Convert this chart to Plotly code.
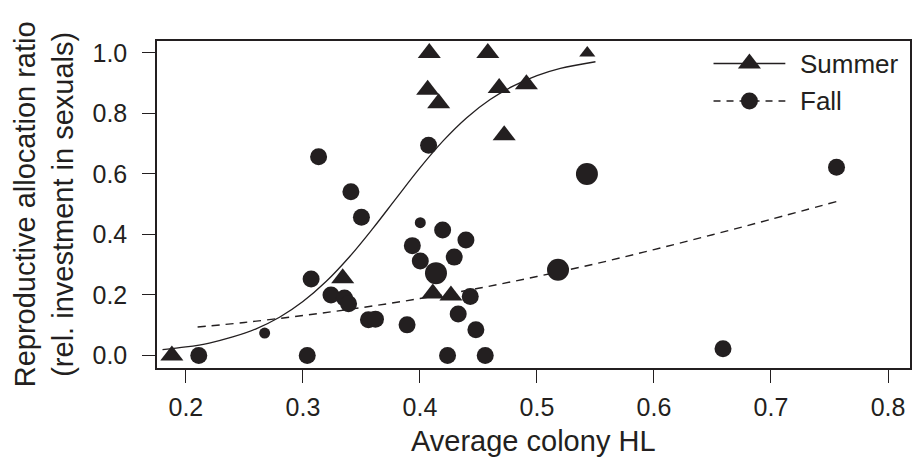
import plotly.graph_objects as go

# ---- data -------------------------------------------------------------
# Summer colonies: average colony HL vs reproductive allocation ratio
summer_hl = [0.188, 0.334, 0.408, 0.458, 0.543, 0.4066, 0.416, 0.4677, 0.491, 0.472, 0.411, 0.4265]
summer_ratio = [0.0, 0.255, 1.0, 1.0, 1.0, 0.878, 0.834, 0.884, 0.897, 0.728, 0.205, 0.198]

# Fall colonies
fall_hl = [0.3134, 0.341, 0.350, 0.3935, 0.307, 0.324, 0.3355, 0.339, 0.356, 0.362,
           0.389, 0.2673, 0.211, 0.3037, 0.4003, 0.4194, 0.4393, 0.4293, 0.4003, 0.4137,
           0.443, 0.4327, 0.4478, 0.4236, 0.4558, 0.518, 0.4074, 0.5427, 0.756, 0.659]
fall_ratio = [0.657, 0.541, 0.457, 0.363, 0.253, 0.200, 0.190, 0.171, 0.118, 0.120,
              0.101, 0.074, 0.0, 0.0, 0.439, 0.415, 0.382, 0.325, 0.3125, 0.272,
              0.195, 0.137, 0.085, 0.0, 0.0, 0.283, 0.695, 0.600, 0.622, 0.022]

# Fitted curves
summer_fit_hl = [0.18, 0.20, 0.22, 0.24, 0.26, 0.28, 0.30, 0.32, 0.34, 0.36,
                 0.38, 0.40, 0.42, 0.44, 0.46, 0.48, 0.50, 0.52, 0.55]
summer_fit_ratio = [0.019, 0.028, 0.041, 0.061, 0.088, 0.126, 0.178, 0.245, 0.327, 0.421,
                    0.521, 0.620, 0.710, 0.786, 0.846, 0.891, 0.925, 0.949, 0.971]
fall_fit_hl = [0.21, 0.25, 0.30, 0.35, 0.40, 0.45, 0.50, 0.55, 0.60, 0.65, 0.70, 0.757]
fall_fit_ratio = [0.094, 0.109, 0.132, 0.158, 0.188, 0.222, 0.261, 0.303, 0.350, 0.399, 0.450, 0.510]

x_ticks = [0.2, 0.3, 0.4, 0.5, 0.6, 0.7, 0.8]
y_ticks = [0.0, 0.2, 0.4, 0.6, 0.8, 1.0]
legend_labels = ["Summer", "Fall"]

# ---- styling ----------------------------------------------------------
INK = "#231f20"
FONT = "Liberation Sans, Arial, Helvetica, sans-serif"
summer_marker_px = [20, 20, 20, 20, 14, 20, 20, 20, 20, 20, 20, 20]
fall_marker_px = [17, 17, 17, 17, 17, 17, 17, 17, 17, 17,
                  17, 11, 17, 17, 11, 17, 17, 17, 17, 22,
                  17, 17, 17, 17, 17, 22, 17, 22, 17, 17]

W, H = 914, 463
M_L, M_R, M_T, M_B = 157, 2, 41, 95

fig = go.Figure()

fig.add_trace(go.Scatter(
    x=summer_fit_hl, y=summer_fit_ratio, mode="lines",
    line=dict(color=INK, width=1.3, shape="spline"), showlegend=False, hoverinfo="skip"))
fig.add_trace(go.Scatter(
    x=fall_fit_hl, y=fall_fit_ratio, mode="lines",
    line=dict(color=INK, width=1.4, dash="8px,6px", shape="spline"), showlegend=False, hoverinfo="skip"))

fig.add_trace(go.Scatter(
    x=fall_hl, y=fall_ratio, mode="markers", name=legend_labels[1],
    marker=dict(symbol="circle", size=fall_marker_px, color=INK, opacity=1, line=dict(width=0)),
    showlegend=False))
fig.add_trace(go.Scatter(
    x=summer_hl, y=summer_ratio, mode="markers", name=legend_labels[0],
    marker=dict(symbol="triangle-up", size=summer_marker_px, color=INK, opacity=1, line=dict(width=0)),
    showlegend=False))

# ---- legend key drawn on a pixel-unit overlay -------------------------
plot_w = W - M_L - M_R
plot_h = H - M_T - M_B
key_x0, key_x1, key_xm = 715, 787, 751
key_rows = [63.5, 101]

def px_x(p):
    return p - M_L

def px_y(p):
    return (H - M_B) - p

fig.add_trace(go.Scatter(
    x=[px_x(key_x0), px_x(key_x1)], y=[px_y(key_rows[0])] * 2, mode="lines",
    line=dict(color=INK, width=1.3), xaxis="x2", yaxis="y2", showlegend=False, hoverinfo="skip"))
fig.add_trace(go.Scatter(
    x=[px_x(key_x0), px_x(key_x1)], y=[px_y(key_rows[1])] * 2, mode="lines",
    line=dict(color=INK, width=1.4, dash="7px,6px"), xaxis="x2", yaxis="y2", showlegend=False, hoverinfo="skip"))
fig.add_trace(go.Scatter(
    x=[px_x(key_xm)], y=[px_y(key_rows[0])], mode="markers",
    marker=dict(symbol="triangle-up", size=20, color=INK, opacity=1, line=dict(width=0)),
    xaxis="x2", yaxis="y2", showlegend=False, hoverinfo="skip"))
fig.add_trace(go.Scatter(
    x=[px_x(key_xm)], y=[px_y(key_rows[1])], mode="markers",
    marker=dict(symbol="circle", size=17, color=INK, opacity=1, line=dict(width=0)),
    xaxis="x2", yaxis="y2", showlegend=False, hoverinfo="skip"))

annotations = []
for label, row in zip(legend_labels, key_rows):
    annotations.append(dict(
        x=(800 - M_L) / plot_w, y=((H - M_B) - row) / plot_h, xref="paper", yref="paper",
        text=label, showarrow=False, xanchor="left", yanchor="middle",
        font=dict(family=FONT, size=26, color=INK)))

# axis titles
annotations.append(dict(
    x=(44 - M_L) / plot_w, y=((H - M_B) - 204) / plot_h, xref="paper", yref="paper",
    text="Reproductive allocation ratio<br>(rel. investment in sexuals)",
    textangle=-90, showarrow=False, xanchor="center", yanchor="middle",
    font=dict(family=FONT, size=29, color=INK)))
annotations.append(dict(
    x=0.5, y=((H - M_B) - 441) / plot_h, xref="paper", yref="paper",
    text="Average colony HL", showarrow=False, xanchor="center", yanchor="middle",
    font=dict(family=FONT, size=29, color=INK)))

axis_common = dict(
    showgrid=False, zeroline=False, showline=True, mirror=True,
    linecolor=INK, linewidth=1.5, ticks="outside", ticklen=13, tickwidth=1.2,
    tickcolor=INK, tickfont=dict(family=FONT, size=25, color=INK))

fig.update_layout(
    width=W, height=H,
    margin=dict(l=M_L, r=M_R, t=M_T, b=M_B, pad=0),
    paper_bgcolor="white", plot_bgcolor="white",
    showlegend=False,
    xaxis=dict(range=[0.1753, 0.8188], tickvals=x_ticks, tickformat=".1f",
               ticklabelstandoff=3, **axis_common),
    yaxis=dict(range=[-0.0416, 1.0396], tickvals=y_ticks, tickformat=".1f",
               ticklabelstandoff=10, **axis_common),
    xaxis2=dict(range=[0, plot_w], overlaying="x", visible=False, fixedrange=True),
    yaxis2=dict(range=[0, plot_h], overlaying="y", visible=False, fixedrange=True),
    annotations=annotations,
)

fig.write_html("out.html")
